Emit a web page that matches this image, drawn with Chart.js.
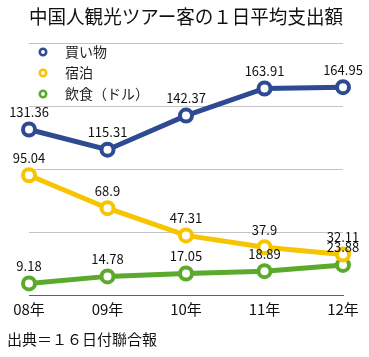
<!DOCTYPE html>
<html><head><meta charset="utf-8">
<script src="https://cdn.jsdelivr.net/npm/chart.js@4"></script>
<style>html,body{margin:0;padding:0;background:#fff}#wrap{width:369px;height:357px}</style>
</head><body><div id="wrap"><canvas id="c" width="369" height="357"></canvas></div>
<script>
const titleText = '中国人観光ツアー客の１日平均支出額';
const sourceText = '出典＝１６日付聯合報';
const categories = ['08年', '09年', '10年', '11年', '12年'];
const seriesNames = ['買い物', '宿泊', '飲食（ドル）'];
const shopping = [131.36, 115.31, 142.37, 163.91, 164.95];
const lodging = [95.04, 68.9, 47.31, 37.9, 32.11];
const food = [9.18, 14.78, 17.05, 18.89, 23.88];
const colors = ['#2d4a93', '#f6c500', '#5baa2c'];
const FONT = '"Noto Sans CJK JP", "Noto Sans", sans-serif';

const labelPlugin = {
  id: 'valueLabels',
  afterDatasetsDraw(chart) {
    const ctx = chart.ctx;
    ctx.save();
    ctx.font = '13px ' + FONT;
    ctx.fillStyle = '#111';
    ctx.textAlign = 'center';
    ctx.textBaseline = 'middle';
    chart.data.datasets.forEach((ds, di) => {
      const meta = chart.getDatasetMeta(di);
      meta.data.forEach((pt, i) => {
        ctx.fillText(String(ds.data[i]), pt.x, pt.y - 17.5);
      });
    });
    ctx.restore();
  }
};
const legendPlugin = {
  id: 'innerLegend',
  afterDraw(chart) {
    const ctx = chart.ctx;
    const a = chart.chartArea;
    ctx.save();
    ctx.font = '14px ' + FONT;
    ctx.textBaseline = 'middle';
    ctx.textAlign = 'left';
    chart.data.datasets.forEach((ds, i) => {
      const y = a.top + 9 + i * 21;
      const x = a.left + 14;
      ctx.beginPath();
      ctx.arc(x, y, 3.2, 0, Math.PI * 2);
      ctx.lineWidth = 2.6;
      ctx.strokeStyle = ds.borderColor;
      ctx.fillStyle = '#fff';
      ctx.fill();
      ctx.stroke();
      ctx.fillStyle = '#222';
      ctx.fillText(ds.label, x + 22, y);
    });
    ctx.restore();
  }
};

const mk = (label, data, color) => ({
  label, data,
  borderColor: color,
  backgroundColor: color,
  borderWidth: 5,
  pointRadius: 6,
  pointBorderWidth: 4,
  pointBackgroundColor: '#fff',
  pointBorderColor: color,
  tension: 0,
  clip: false
});

new Chart(document.getElementById('c'), {
  type: 'line',
  data: {
    labels: categories,
    datasets: [
      mk(seriesNames[0], shopping, colors[0]),
      mk(seriesNames[1], lodging, colors[1]),
      mk(seriesNames[2], food, colors[2])
    ]
  },
  options: {
    responsive: false,
    animation: false,
    devicePixelRatio: 1,
    layout: { padding: { left: 7, right: 26, top: 0, bottom: 0 } },
    plugins: {
      legend: { display: false },
      tooltip: { enabled: false },
      title: {
        display: true,
        text: titleText,
        color: '#111',
        fullSize: false,
        font: { family: FONT, size: 19, weight: 'normal' },
        padding: { top: 5, bottom: 15.2 }
      },
      subtitle: {
        display: true,
        text: sourceText,
        position: 'bottom',
        align: 'start',
        color: '#111',
        font: { family: FONT, size: 15, weight: 'normal' },
        padding: { top: 7, bottom: 9 },
        fullSize: true
      }
    },
    scales: {
      x: {
        offset: false,
        grid: { display: false, drawTicks: false },
        border: { display: true, color: '#5a6272', width: 1 },
        ticks: { color: '#111', font: { family: FONT, size: 15 }, padding: 5, maxRotation: 0, autoSkip: false }
      },
      y: {
        min: 0, max: 200,
        afterFit(scale) { scale.width = 22; },
        ticks: { display: true, stepSize: 50, color: 'rgba(0,0,0,0)', padding: 0 },
        grid: { display: true, color: '#c4c4c4', lineWidth: 1, drawTicks: false, tickLength: 0 },
        border: { display: false }
      }
    }
  },
  plugins: [labelPlugin, legendPlugin]
});
</script>
</body></html>
